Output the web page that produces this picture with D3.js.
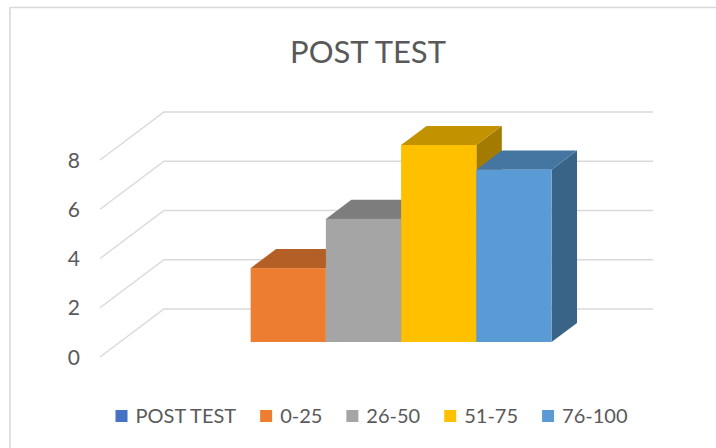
<!DOCTYPE html>
<html>
<head>
<meta charset="utf-8">
<script src="https://cdn.jsdelivr.net/npm/d3@7"></script>
<style>
  body { margin: 0; background: #fff; }
  text { font-family: Lato, "Open Sans", sans-serif; fill: #595959; }
</style>
</head>
<body>
<svg id="chart" width="716" height="448"></svg>
<script>
// data
var title = 'POST TEST';
var series = ['POST TEST', '0-25', '26-50', '51-75', '76-100'];
var values = [null, 3, 5, 8, 7];
var colors = ['#4472C4', '#ED7D31', '#A5A5A5', '#FFC000', '#5B9BD5'];
var ticks = [0, 2, 4, 6, 8];

var svg = d3.select('#chart');

// chart area border (only top and left visible in the crop)
svg.append('path')
  .attr('d', 'M10,760 L10,7.5 L760,7.5')
  .attr('fill', 'none')
  .attr('stroke', '#d9d9d9')
  .attr('stroke-width', 1.6);

// fake 3d: floor goes back by (depthX, depthY)
var depthX = 64, depthY = 48;
var y = d3.scaleLinear().domain([0, 8]).range([357, 160]);
var x = d3.scaleBand().domain(series).range([100, 589]).paddingInner(0).paddingOuter(0.75);
var front = 0.3125, back = 0.71;   // depth of bar faces

function shade(c, f) {
  var r = d3.rgb(c);
  return d3.rgb(r.r * f, r.g * f, r.b * f).formatHex();
}

// gridlines: side wall diagonal + back wall horizontal
var grid = svg.append('g');
grid.selectAll('path').data(ticks).enter()
  .append('path')
  .attr('d', function(t) {
    var y0 = y(t);
    return 'M100,' + y0 + ' L' + (100 + depthX) + ',' + (y0 - depthY) + ' L653,' + (y0 - depthY);
  })
  .attr('fill', 'none')
  .attr('stroke', '#d9d9d9')
  .attr('stroke-width', 1.4);

// value labels
svg.append('g').selectAll('text').data(ticks).enter()
  .append('text')
  .attr('x', 80)
  .attr('y', function(t) { return y(t); })
  .attr('dy', '0.36em')
  .attr('text-anchor', 'end')
  .style('font-size', '21px')
  .text(function(t) { return t; });

// bars, left to right so later ones hide earlier side faces
var bw = x.bandwidth();
var fx = front * depthX, fy = front * depthY;
var bx = back * depthX, by = back * depthY;
var bars = svg.append('g');
series.forEach(function(s, i) {
  var v = values[i];
  if (v === null) { return; }
  var xl = x(s) + fx - 1, xr = xl + bw;
  var yb = y(0) - fy, yt = y(v) - fy;
  var ddx = bx - fx, ddy = by - fy;
  var g = bars.append('g');
  // right side
  g.append('path')
    .attr('d', 'M' + xr + ',' + yt + ' L' + (xr + ddx) + ',' + (yt - ddy) +
      ' L' + (xr + ddx) + ',' + (yb - ddy) + ' L' + xr + ',' + yb + 'Z')
    .attr('fill', shade(colors[i], 0.64));
  // top
  g.append('path')
    .attr('d', 'M' + xl + ',' + yt + ' L' + (xl + ddx) + ',' + (yt - ddy) +
      ' L' + (xr + ddx) + ',' + (yt - ddy) + ' L' + xr + ',' + yt + 'Z')
    .attr('fill', shade(colors[i], 0.76));
  // front
  g.append('rect')
    .attr('x', xl).attr('y', yt)
    .attr('width', bw).attr('height', yb - yt)
    .attr('fill', colors[i]);
});

// title
svg.append('text')
  .attr('x', 368)
  .attr('y', 63)
  .attr('text-anchor', 'middle')
  .style('font-size', '31px')
  .text(title);

// legend, laid out from measured text widths then centred
var legend = svg.append('g');
var items = legend.selectAll('g').data(series).enter().append('g');
items.append('rect')
  .attr('width', 12).attr('height', 12)
  .attr('y', 410)
  .attr('fill', function(d, i) { return colors[i]; });
items.append('text')
  .attr('x', 20)
  .attr('y', 423)
  .style('font-size', '20px')
  .text(function(d) { return d; });

var pos = 0;
items.each(function() {
  var it = d3.select(this);
  it.attr('transform', 'translate(' + pos + ',0)');
  pos += 20 + it.select('text').node().getComputedTextLength() + 24;
});
var total = pos - 24;
legend.attr('transform', 'translate(' + (371.5 - total / 2) + ',0)');
</script>
</body>
</html>
